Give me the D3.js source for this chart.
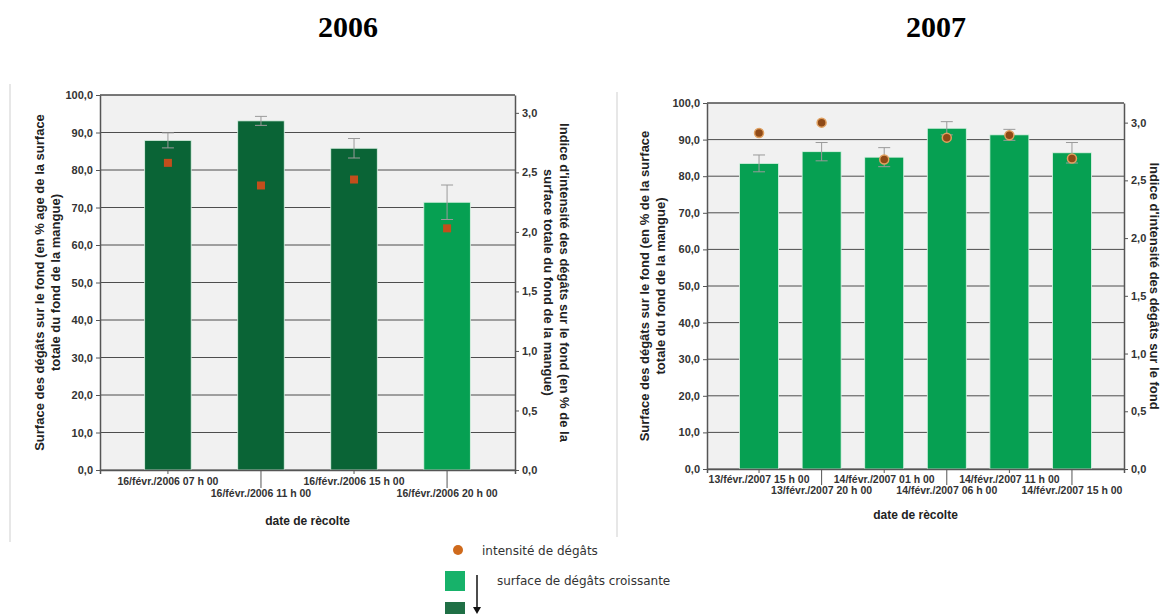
<!DOCTYPE html>
<html>
<head>
<meta charset="utf-8">
<script src="https://cdn.jsdelivr.net/npm/d3@7"></script>
<style>
  body { margin: 0; background: #fff; }
  svg text { font-family: "Liberation Sans", Arial, sans-serif; }
</style>
</head>
<body>
<svg id="chart" width="1166" height="614"></svg>
<script>
// 2006 harvest
const dates2006 = ["16/févr./2006 07 h 00", "16/févr./2006 11 h 00", "16/févr./2006 15 h 00", "16/févr./2006 20 h 00"];
const surface2006 = [87.9, 93.1, 85.8, 71.4];
const surfaceErr2006 = [2.0, 1.2, 2.6, 4.6];
const intensity2006 = [2.58, 2.39, 2.44, 2.03];
const surfaceClass2006 = [2, 2, 2, 1];

// 2007 harvest
const dates2007 = ["13/févr./2007 15 h 00", "13/févr./2007 20 h 00", "14/févr./2007 01 h 00", "14/févr./2007 06 h 00", "14/févr./2007 11 h 00", "14/févr./2007 15 h 00"];
const surface2007 = [83.5, 86.7, 85.2, 93.1, 91.3, 86.4];
const surfaceErr2007 = [2.3, 2.5, 2.6, 1.8, 1.5, 2.8];
const intensity2007 = [2.91, 3.0, 2.68, 2.87, 2.89, 2.69];
const surfaceClass2007 = [1, 1, 1, 1, 1, 1];

const leftTicks = d3.range(0, 101, 10);
const rightTicks = d3.range(0, 3.01, 0.5);

const classColor = {1: "#06a052", 2: "#0a6436"};
const fmt = d3.format(".1f");
const comma = v => fmt(v).replace(".", ",");

const svg = d3.select("#chart");

// frame lines of the two pasted graphs
svg.append("line").attr("x1", 10).attr("x2", 10).attr("y1", 84).attr("y2", 542)
  .attr("stroke", "#cfcfcf");
svg.append("line").attr("x1", 617).attr("x2", 617).attr("y1", 92).attr("y2", 537)
  .attr("stroke", "#cfcfcf");

function drawPanel(p) {
  const g = svg.append("g");

  const x = d3.scaleBand().domain(p.dates).range([p.x0, p.x1])
    .paddingInner(p.padInner).paddingOuter(p.padOuter);
  const y = d3.scaleLinear().domain([0, 100]).range([p.y1, p.y0]);
  const y2 = d3.scaleLinear().domain([0, p.rightMax]).range([p.y1, p.y0]);

  // background
  g.append("rect").attr("x", p.x0).attr("y", p.y0)
    .attr("width", p.x1 - p.x0).attr("height", p.y1 - p.y0)
    .attr("fill", "#f1f1f1");

  // grid
  g.selectAll(".grid").data(leftTicks).enter().append("line")
    .attr("x1", p.x0).attr("x2", p.x1)
    .attr("y1", d => y(d)).attr("y2", d => y(d))
    .attr("stroke", "#4d4d4d").attr("stroke-width", 1);

  // bars
  g.selectAll(".bar").data(p.dates).enter().append("rect")
    .attr("x", d => x(d))
    .attr("y", (d, i) => y(p.surface[i]))
    .attr("width", x.bandwidth())
    .attr("height", (d, i) => y(0) - y(p.surface[i]))
    .attr("fill", (d, i) => classColor[p.cls[i]])
    .attr("stroke", "#dff3e6").attr("stroke-width", 0.8);

  // error bars
  const cw = 6;
  p.dates.forEach((d, i) => {
    const cx = x(d) + x.bandwidth() / 2;
    const lo = y(p.surface[i] - p.err[i]), hi = y(p.surface[i] + p.err[i]);
    g.append("line").attr("x1", cx).attr("x2", cx).attr("y1", lo).attr("y2", hi)
      .attr("stroke", "#9a9a9a");
    [lo, hi].forEach(v => g.append("line")
      .attr("x1", cx - cw).attr("x2", cx + cw).attr("y1", v).attr("y2", v)
      .attr("stroke", "#9a9a9a"));
  });

  // intensity points
  if (p.square) {
    g.selectAll(".pt").data(p.dates).enter().append("rect")
      .attr("x", d => x(d) + x.bandwidth() / 2 - 4)
      .attr("y", (d, i) => y2(p.intensity[i]) - 4)
      .attr("width", 8).attr("height", 8)
      .attr("fill", "#c24e1c");
  } else {
    g.selectAll(".pt").data(p.dates).enter().append("circle")
      .attr("cx", d => x(d) + x.bandwidth() / 2)
      .attr("cy", (d, i) => y2(p.intensity[i]))
      .attr("r", 4.5)
      .attr("fill", "#8f4a17").attr("stroke", "#e0a060").attr("stroke-width", 1.5);
  }

  // border
  g.append("line").attr("x1", p.x0).attr("x2", p.x1).attr("y1", p.y0).attr("y2", p.y0)
    .attr("stroke", "#4d4d4d");

  // left axis
  const ax = g.append("g").attr("transform", `translate(${p.x0},0)`)
    .call(d3.axisLeft(y).tickValues(leftTicks).tickFormat(comma).tickSize(4).tickSizeOuter(0));
  // right axis
  const ax2 = g.append("g").attr("transform", `translate(${p.x1},0)`)
    .call(d3.axisRight(y2).tickValues(rightTicks).tickFormat(comma).tickSize(4).tickSizeOuter(0));
  // bottom axis with staggered labels
  const ax3 = g.append("g").attr("transform", `translate(0,${p.y1})`)
    .call(d3.axisBottom(x).tickSizeOuter(0).tickSize(4));
  ax3.selectAll(".tick line").attr("y2", (d, i) => i % 2 ? p.longTick : 4);
  ax3.selectAll(".tick text").attr("y", (d, i) => i % 2 ? p.row2 : p.row1).attr("dy", 0);

  [ax, ax2, ax3].forEach(a => {
    a.select(".domain").attr("stroke", "#555").attr("stroke-width", 1.5);
    a.selectAll(".tick line").attr("stroke", "#555");
    a.selectAll(".tick text").attr("fill", "#333").attr("font-size", 10.5)
      .attr("font-weight", "bold");
  });
  ax.selectAll(".tick text").attr("font-size", 11);
  ax2.selectAll(".tick text").attr("font-size", 11);

  // titles
  g.append("text").attr("x", p.titleX).attr("y", 37)
    .attr("text-anchor", "middle")
    .attr("font-weight", "bold").attr("font-size", 30)
    .style("font-family", "'Liberation Serif', 'Times New Roman', serif")
    .text(p.title);

  const cy = (p.y0 + p.y1) / 2;
  p.leftTitle.forEach((t, k) => {
    g.append("text")
      .attr("transform", `translate(${p.leftTitleX + k * 16},${cy}) rotate(-90)`)
      .attr("text-anchor", "middle").attr("font-size", 13).attr("font-weight", "bold")
      .attr("fill", "#222").text(t);
  });
  p.rightTitle.forEach((t, k) => {
    g.append("text")
      .attr("transform", `translate(${p.rightTitleX - k * 16},${cy}) rotate(90)`)
      .attr("text-anchor", "middle").attr("font-size", 13).attr("font-weight", "bold")
      .attr("fill", "#222").text(t);
  });

  g.append("text").attr("x", (p.x0 + p.x1) / 2).attr("y", p.xTitleY)
    .attr("text-anchor", "middle").attr("font-size", 12).attr("font-weight", "bold")
    .attr("fill", "#222").text("date de rècolte");
}

drawPanel({
  dates: dates2006, surface: surface2006, err: surfaceErr2006,
  intensity: intensity2006, cls: surfaceClass2006, square: true,
  x0: 100, x1: 515, y0: 95, y1: 470, rightMax: 3.15,
  padInner: 0.5, padOuter: 0.48,
  row1: 15, row2: 27, longTick: 18,
  title: "2006", titleX: 348,
  leftTitle: ["Surface des dégâts sur le fond (en % age de la surface", "totale du fond de la mangue)"],
  leftTitleX: 44,
  rightTitle: ["Indice d'intensité des dégâts sur le fond (en % de la", "surface totale du fond de la mangue)"],
  rightTitleX: 560,
  xTitleY: 525
});

drawPanel({
  dates: dates2007, surface: surface2007, err: surfaceErr2007,
  intensity: intensity2007, cls: surfaceClass2007, square: false,
  x0: 707, x1: 1124, y0: 103, y1: 469, rightMax: 3.17,
  padInner: 0.377, padOuter: 0.52,
  row1: 14, row2: 25, longTick: 16,
  title: "2007", titleX: 936,
  leftTitle: ["Surface des dégâts sur le fond (en % de la surface", "totale du fond de la mangue)"],
  leftTitleX: 649,
  rightTitle: ["Indice d'intensité des dégâts sur le fond"],
  rightTitleX: 1150,
  xTitleY: 519
});

// legend
const legend = svg.append("g");
legend.append("circle").attr("cx", 458).attr("cy", 550).attr("r", 5).attr("fill", "#cf6a1c");
legend.append("text").attr("x", 482).attr("y", 555).attr("font-size", 12)
  .style("font-family", "'DejaVu Sans', Verdana, sans-serif")
  .attr("fill", "#333").text("intensité de dégâts");
legend.append("rect").attr("x", 445).attr("y", 571).attr("width", 20).attr("height", 20)
  .attr("fill", "#17b26a");
legend.append("rect").attr("x", 445).attr("y", 602).attr("width", 20).attr("height", 14)
  .attr("fill", "#1f6f45");
legend.append("line").attr("x1", 477).attr("x2", 477).attr("y1", 575).attr("y2", 612)
  .attr("stroke", "#111").attr("stroke-width", 1.5);
legend.append("path").attr("d", "M473,607 L481,607 L477,614 Z").attr("fill", "#111");
legend.append("text").attr("x", 497).attr("y", 585).attr("font-size", 12)
  .style("font-family", "'DejaVu Sans', Verdana, sans-serif")
  .attr("fill", "#333").text("surface de dégâts croissante");
</script>
</body>
</html>
